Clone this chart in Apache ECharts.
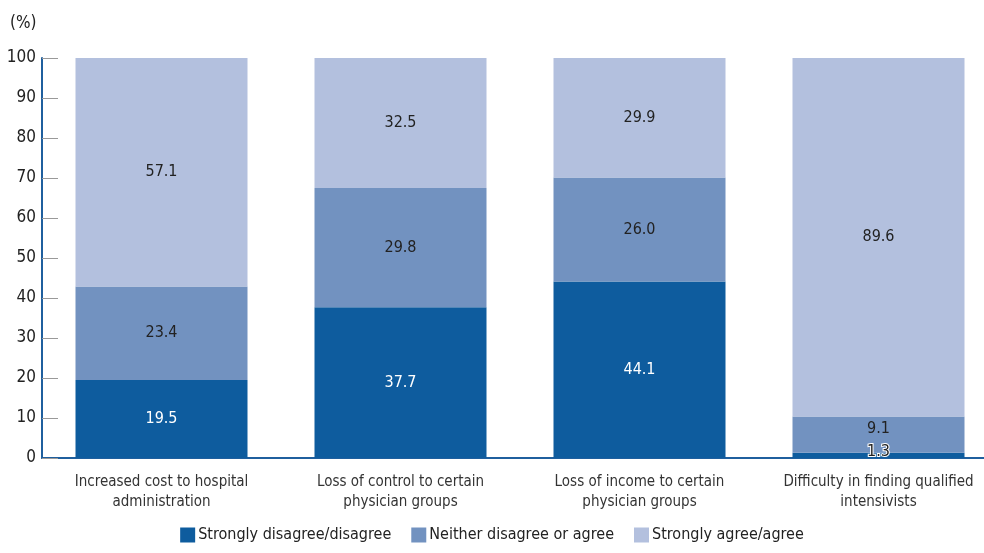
<!DOCTYPE html>
<html lang="en">
<head>
  <meta charset="UTF-8">
  <title>Chart</title>
  <script src="https://cdn.jsdelivr.net/npm/echarts@6/dist/echarts.min.js"></script>
  <style>
    * { margin: 0; padding: 0 }
    html, body { width: 100%; height: 100%; background: #fff; }
    #main { width: 984px; height: 553px; }
  </style>
</head>
<body>
  <div id="main"></div>
</body>
<script type="text/javascript">
  var categories = [
    'Increased cost to hospital\nadministration',
    'Loss of control to certain\nphysician groups',
    'Loss of income to certain\nphysician groups',
    'Difficulty in finding qualified\nintensivists'
  ];
  var seriesNames = ['Strongly disagree/disagree', 'Neither disagree or agree', 'Strongly agree/agree'];
  var disagree = [19.5, 37.7, 44.1, 1.3];
  var neither = [23.4, 29.8, 26.0, 9.1];
  var agree = [57.1, 32.5, 29.9, 89.6];
  var yTicks = [0, 10, 20, 30, 40, 50, 60, 70, 80, 90, 100];

  var font = '"Liberation Sans Narrow", "DejaVu Sans Condensed", sans-serif';
  var colors = ['#0e5c9e', '#7292c0', '#b3c0de'];

  function labelFor(idx) {
    return {
      show: true,
      position: 'inside',
      fontFamily: font,
      fontSize: 16,
      color: idx === 0 ? '#fff' : '#222',
      formatter: function (p) { return p.value.toFixed(1); }
    };
  }

  var chart = echarts.init(document.getElementById('main'));
  var dataSets = [disagree, neither, agree];
  var series = dataSets.map(function (arr, i) {
    return {
      name: seriesNames[i],
      type: 'bar',
      stack: 'total',
      barWidth: 172,
      itemStyle: { color: colors[i] },
      label: labelFor(i),
      data: arr.map(function (v, j) {
        var d = { value: v };
        // small segments in last bar: nudge labels like the original
        if (j === 3 && i === 0) {
          d.label = { color: '#222', textBorderColor: '#fff', textBorderWidth: 2, offset: [0, -4] };
        }
        if (j === 3 && i === 1) {
          d.label = { offset: [0, -6] };
        }
        return d;
      })
    };
  });

  chart.setOption({
    animation: false,
    textStyle: { fontFamily: font },
    grid: { left: 42, width: 956, top: 58, bottom: 95, outerBoundsMode: 'none', containLabel: false },
    title: {
      text: '(%)', left: 5, top: 10,
      textStyle: { fontFamily: font, fontSize: 17, fontWeight: 'normal', color: '#222' }
    },
    legend: {
      bottom: 5, left: 'center',
      itemWidth: 15, itemHeight: 15, itemGap: 20,
      icon: 'rect',
      textStyle: { fontFamily: font, fontSize: 16, color: '#222', padding: [0, 0, 0, -2] },
      data: seriesNames
    },
    xAxis: {
      type: 'category',
      data: categories,
      axisLine: { lineStyle: { color: '#1f5f9e', width: 2 } },
      axisTick: { show: false },
      axisLabel: { fontFamily: font, fontSize: 15, color: '#333', margin: 14, lineHeight: 20, interval: 0 }
    },
    yAxis: {
      type: 'value',
      min: yTicks[0], max: yTicks[yTicks.length - 1], interval: 10,
      splitLine: { show: false },
      axisLine: { show: true, lineStyle: { color: '#1f5f9e', width: 2 } },
      axisTick: { show: true, inside: true, length: 16, lineStyle: { color: '#999' } },
      axisLabel: { fontFamily: font, fontSize: 17, color: '#222', margin: 6 }
    },
    series: series
  });
</script>
</html>
